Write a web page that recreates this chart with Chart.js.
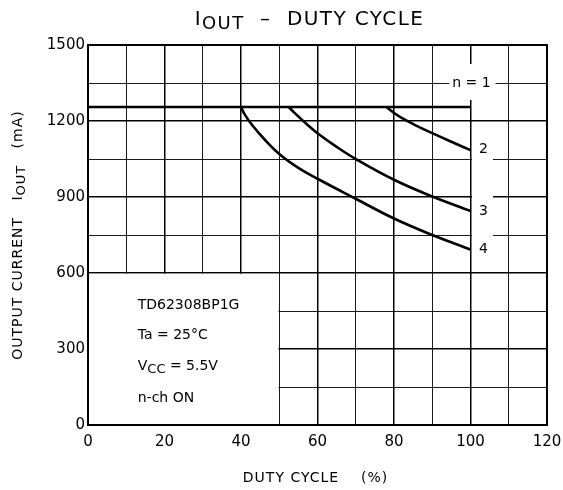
<!DOCTYPE html>
<html>
<head>
<meta charset="utf-8">
<script src="https://cdn.jsdelivr.net/npm/chart.js@4.4.1/dist/chart.umd.min.js"></script>
<style>
  html, body { margin: 0; padding: 0; background: #ffffff; }
  #wrap { width: 563px; height: 490px; }
</style>
</head>
<body>
<div id="wrap"><canvas id="ioutChart" width="563" height="490"></canvas></div>
<script>
// values (duty % -> mA)
const dutyN1 = [0, 100];
const ioutN1 = [1255, 1255];
const dutyN2 = [78, 80, 82, 85, 90, 95, 100];
const ioutN2 = [1255, 1232, 1212, 1188, 1152, 1118, 1085];
const dutyN3 = [52.5, 54, 57, 60, 65, 70, 80, 90, 100];
const ioutN3 = [1255, 1232, 1190, 1152, 1098, 1050, 968, 902, 845];
const dutyN4 = [40, 41, 43, 46, 50, 55, 60, 70, 80, 90, 100];
const ioutN4 = [1255, 1225, 1182, 1130, 1070, 1015, 972, 893, 815, 750, 693];

const xTicks = [0, 20, 40, 60, 80, 100, 120];
const yTicks = [0, 300, 600, 900, 1200, 1500];

const curveLabels = ['n = 1', '2', '3', '4'];
const conditionLines = ['TD62308BP1G', 'Ta = 25°C', 'VCC = 5.5V', 'n-ch ON'];

const FONT = '"DejaVu Sans", "Open Sans", sans-serif';

function toPoints(xs, ys) {
    return xs.map((x, i) => ({ x: x, y: ys[i] }));
}

function series(xs, ys) {
    return {
        data: toPoints(xs, ys),
        borderColor: '#000000',
        borderWidth: 2.6,
        pointRadius: 0,
        tension: 0.4,
        fill: false
    };
}

// draws text runs where some parts are subscripts
function drawRuns(ctx, runs, cx, cy, align, spacing) {
    ctx.letterSpacing = (spacing || 0) + 'px';
    let total = 0;
    runs.forEach(r => {
        ctx.font = r.size + 'px ' + FONT;
        r.w = ctx.measureText(r.t).width;
        total += r.w;
    });
    let x = align === 'left' ? cx : cx - total / 2;
    ctx.textAlign = 'left';
    ctx.textBaseline = 'middle';
    runs.forEach(r => {
        ctx.font = r.size + 'px ' + FONT;
        ctx.fillText(r.t, x, cy + (r.dy || 0));
        x += r.w;
    });
    ctx.letterSpacing = '0px';
}

const decorPlugin = {
    id: 'decor',
    beforeDatasetsDraw(chart) {
        const { ctx, scales: { x, y } } = chart;
        // the lower-left box has no grid
        ctx.save();
        ctx.fillStyle = '#ffffff';
        const l = x.getPixelForValue(0);
        const r = x.getPixelForValue(50) - 0.8;
        const t = y.getPixelForValue(600) + 0.8;
        const b = y.getPixelForValue(0);
        ctx.fillRect(l, t, r - l, b - t);
        ctx.restore();
    },
    afterDatasetsDraw(chart) {
        const { ctx, chartArea: a, scales: { x, y } } = chart;
        ctx.save();

        // frame
        ctx.strokeStyle = '#000000';
        ctx.lineWidth = 2;
        ctx.strokeRect(a.left, a.top, a.right - a.left, a.bottom - a.top);

        // curve labels, with white patch behind
        const x100 = x.getPixelForValue(100);
        const spots = [
            { x: x100 + 1, y: y.getPixelForValue(1350) },
            { x: x100 + 13, y: y.getPixelForValue(ioutN2[ioutN2.length - 1]) - 1 },
            { x: x100 + 13, y: y.getPixelForValue(ioutN3[ioutN3.length - 1]) },
            { x: x100 + 13, y: y.getPixelForValue(ioutN4[ioutN4.length - 1]) }
        ];
        ctx.fillStyle = '#ffffff';
        ctx.fillRect(spots[0].x - 22, spots[0].y - 19, 46, 36);
        for (let i = 1; i < 4; i++) {
            ctx.fillRect(x100 + 1.5, spots[i].y - 19, 21, 30);
        }
        ctx.fillStyle = '#000000';
        curveLabels.forEach((t, i) => {
            drawRuns(ctx, [{ t: t, size: 14 }], spots[i].x, spots[i].y, 'center');
        });

        // conditions in the blank box
        const tx = x.getPixelForValue(13);
        drawRuns(ctx, [{ t: conditionLines[0], size: 14 }], tx, 305, 'left');
        drawRuns(ctx, [{ t: conditionLines[1], size: 14 }], tx, 335, 'left');
        drawRuns(ctx, [{ t: 'V', size: 14 }, { t: 'CC', size: 13, dy: 4 }, { t: ' = 5.5V', size: 14 }], tx, 366, 'left');
        drawRuns(ctx, [{ t: conditionLines[3], size: 14 }], tx, 398, 'left');

        // title
        const mid = (a.left + a.right) / 2;
        drawRuns(ctx, [{ t: 'I', size: 20 }, { t: 'OUT', size: 18, dy: 4 }, { t: '  –  DUTY CYCLE', size: 20 }], mid - 8, 20, 'center', 1.4);

        // x axis title
        drawRuns(ctx, [{ t: 'DUTY CYCLE    (%)', size: 14 }], mid - 2, 478, 'center', 1);

        // y axis title
        ctx.translate(18, (a.top + a.bottom) / 2);
        ctx.rotate(-Math.PI / 2);
        drawRuns(ctx, [{ t: 'OUTPUT CURRENT   I', size: 14 }, { t: 'OUT', size: 13, dy: 4 }, { t: '   (mA)', size: 14 }], 0, 0, 'center', 1);

        ctx.restore();
    }
};

function createIoutChart() {
    const ctx = document.getElementById('ioutChart').getContext('2d');
    return new Chart(ctx, {
        type: 'line',
        data: {
            datasets: [
                series(dutyN1, ioutN1),
                series(dutyN2, ioutN2),
                series(dutyN3, ioutN3),
                series(dutyN4, ioutN4)
            ]
        },
        options: {
            responsive: false,
            animation: false,
            layout: { padding: { top: 45, right: 16, left: 0, bottom: 0 } },
            plugins: {
                legend: { display: false },
                tooltip: { enabled: false },
                title: { display: false }
            },
            scales: {
                x: {
                    type: 'linear',
                    min: 0,
                    max: 120,
                    // keep the plot edge fixed, the end labels may overhang
                    afterFit: s => { s.height = 65; s.paddingLeft = 0; s.paddingRight = 0; },
                    ticks: {
                        stepSize: 10,
                        autoSkip: false,
                        maxRotation: 0,
                        padding: 8,
                        color: '#000000',
                        font: { family: FONT, size: 15 },
                        callback: v => xTicks.includes(v) ? v : ''
                    },
                    grid: {
                        color: '#000000',
                        drawTicks: false,
                        lineWidth: c => (c.tick && c.tick.value % 20 === 0) ? 1.5 : 0.9
                    },
                    border: { display: false }
                },
                y: {
                    min: 0,
                    max: 1500,
                    afterFit: s => { s.width = 88; s.paddingTop = 0; s.paddingBottom = 0; },
                    ticks: {
                        stepSize: 150,
                        autoSkip: false,
                        padding: 3,
                        color: '#000000',
                        font: { family: FONT, size: 15 },
                        callback: v => yTicks.includes(v) ? v : ''
                    },
                    grid: {
                        color: '#000000',
                        drawTicks: false,
                        lineWidth: c => (c.tick && c.tick.value % 300 === 0) ? 1.5 : 0.9
                    },
                    border: { display: false }
                }
            }
        },
        plugins: [decorPlugin]
    });
}

document.addEventListener('DOMContentLoaded', () => {
    window.ioutChart = createIoutChart();
});
</script>
</body>
</html>
